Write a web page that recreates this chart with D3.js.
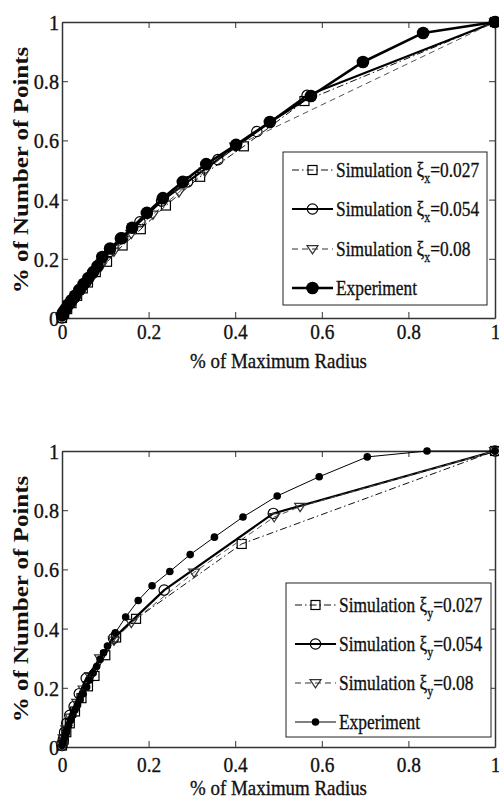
<!DOCTYPE html>
<html>
<head>
<meta charset="utf-8">
<script src="https://cdn.jsdelivr.net/npm/d3@7"></script>
<style>
  html, body { margin: 0; padding: 0; background: #fff; }
  svg text { font-family: 'Liberation Serif', 'Times New Roman', Times, serif; }
  svg text.heavy { stroke: #111; stroke-width: 0.35px; }
</style>
</head>
<body>
<svg id="fig" width="499" height="802"></svg>
<script>
// ---- axis ticks and labels ----
const xTickValues = [0, 0.2, 0.4, 0.6, 0.8, 1];
const yTickValues = [0, 0.2, 0.4, 0.6, 0.8, 1];
const tickLabels = ["0", "0.2", "0.4", "0.6", "0.8", "1"];
const xTitle = "% of Maximum Radius";
const yTitle = "% of Number of Points";

// ---- legend text ----
const legendNames = ["Simulation \u03BE", "Simulation \u03BE", "Simulation \u03BE", "Experiment"];
const legendValues = ["=0.027", "=0.054", "=0.08", ""];

// ---- x-direction panel: [radius fraction, point fraction] ----
const topSim027 = [[0,0],[0.005,0.015],[0.012,0.03],[0.022,0.05],[0.035,0.075],[0.048,0.1],[0.06,0.12],
  [0.078,0.155],[0.104,0.19],[0.14,0.245],[0.182,0.3],[0.24,0.38],[0.319,0.477],[0.42,0.58],[0.56,0.733],[1,1]];
const topSim054 = [[0,0],[0.004,0.015],[0.01,0.03],[0.02,0.05],[0.03,0.07],[0.042,0.095],[0.055,0.12],
  [0.07,0.15],[0.088,0.185],[0.11,0.225],[0.14,0.27],[0.18,0.325],[0.23,0.395],[0.29,0.46],[0.36,0.535],
  [0.45,0.63],[0.566,0.752],[1,1]];
const topSim08 = [[0,0],[0.005,0.012],[0.012,0.028],[0.022,0.048],[0.035,0.072],[0.05,0.1],[0.068,0.135],
  [0.09,0.175],[0.12,0.225],[0.16,0.285],[0.21,0.35],[0.27,0.425],[0.33,0.495],[0.4,0.58],[1,1]];
const topExperiment = [[0,0.01],[0.003,0.02],[0.008,0.03],[0.014,0.045],[0.022,0.06],[0.03,0.075],
  [0.04,0.095],[0.05,0.115],[0.061,0.135],[0.072,0.155],[0.082,0.175],[0.093,0.206],[0.111,0.235],
  [0.136,0.269],[0.162,0.305],[0.196,0.355],[0.233,0.405],[0.279,0.46],[0.333,0.52],[0.402,0.585],
  [0.48,0.662],[0.575,0.75],[0.695,0.865],[0.834,0.963],[1,1]];

// ---- y-direction panel ----
const botSim027 = [[0,0.005],[0.004,0.025],[0.01,0.05],[0.018,0.08],[0.03,0.12],[0.045,0.165],[0.06,0.205],
  [0.075,0.24],[0.1,0.31],[0.125,0.37],[0.171,0.433],[0.415,0.686],[1,1]];
const botSim054 = [[0,0.005],[0.003,0.025],[0.006,0.05],[0.011,0.08],[0.018,0.107],[0.028,0.137],
  [0.04,0.18],[0.056,0.232],[0.119,0.367],[0.236,0.53],[0.488,0.789],[1,1]];
const botSim08 = [[0,0.005],[0.004,0.03],[0.01,0.06],[0.02,0.1],[0.035,0.15],[0.05,0.195],[0.065,0.24],
  [0.088,0.3],[0.12,0.36],[0.16,0.42],[0.305,0.59],[0.49,0.777],[0.55,0.812],[1,1]];
const botExperiment = [[0,0.005],[0.002,0.015],[0.005,0.028],[0.008,0.042],[0.011,0.057],[0.015,0.073],
  [0.02,0.09],[0.025,0.107],[0.03,0.125],[0.036,0.142],[0.042,0.16],[0.049,0.18],[0.057,0.203],
  [0.064,0.226],[0.072,0.25],[0.08,0.272],[0.088,0.296],[0.096,0.318],[0.105,0.341],[0.123,0.386],
  [0.147,0.439],[0.176,0.495],[0.208,0.545],[0.249,0.593],[0.296,0.65],[0.352,0.709],[0.418,0.777],
  [0.497,0.848],[0.594,0.913],[0.705,0.98],[0.843,1.0],[1,1]];

// line / marker styles for the four series
function seriesStyles(expWidth, expRadius) {
  return [
    { stroke: "#111", width: 1, dash: "7,3,1.5,3", marker: "square", size: 9, fill: "none" },
    { stroke: "#000", width: 2.2, dash: null, marker: "circle", size: 5.2, fill: "none" },
    { stroke: "#555", width: 1, dash: "6,4", marker: "triangle", size: 5.5, fill: "none" },
    { stroke: "#000", width: expWidth, dash: null, marker: "dot", size: expRadius, fill: "#000" }
  ];
}

const panels = [
  {
    left: 62, right: 495, top: 22, bottom: 318, sub: "x",
    series: [topSim027, topSim054, topSim08, topExperiment],
    styles: seriesStyles(2.6, 6.3),
    xLabelBase: 339, xTitleBase: 368, yTitleCenter: 170,
    legend: { x0: 283, x1: 487, y0: 152, y1: 305, rows: [170, 209, 249, 288] }
  },
  {
    left: 62, right: 495, top: 451, bottom: 747, sub: "y",
    series: [botSim027, botSim054, botSim08, botExperiment],
    styles: seriesStyles(1, 3.8),
    xLabelBase: 772, xTitleBase: 795, yTitleCenter: 599,
    legend: { x0: 286, x1: 491, y0: 583, y1: 737, rows: [605, 644, 683, 722] }
  }
];

const svg = d3.select("#fig");

function drawMarker(g, style, cx, cy) {
  const common = (sel) => sel.attr("stroke", "#000")
    .attr("stroke-width", style.marker === "dot" ? 0 : 1.2)
    .attr("fill", style.fill);
  if (style.marker === "circle" || style.marker === "dot") {
    g.append("circle").attr("cx", cx).attr("cy", cy).attr("r", style.size).call(common);
  } else if (style.marker === "square") {
    const h = style.size / 2;
    g.append("rect").attr("x", cx - h).attr("y", cy - h)
      .attr("width", style.size).attr("height", style.size).call(common);
  } else if (style.marker === "triangle") {
    const s = style.size;
    g.append("path")
      .attr("d", `M${cx - s},${cy - s * 0.6}L${cx + s},${cy - s * 0.6}L${cx},${cy + s * 0.9}Z`)
      .call(common).attr("stroke", "#333");
  }
}

panels.forEach(p => {
  const x = d3.scaleLinear().domain([0, 1]).range([p.left, p.right]);
  const y = d3.scaleLinear().domain([0, 1]).range([p.bottom, p.top]);
  const g = svg.append("g");

  // frame with inward ticks on all four sides
  const label = d => tickLabels[xTickValues.indexOf(d)];
  const axB = g.append("g").attr("transform", `translate(0,${p.bottom})`)
    .call(d3.axisBottom(x).tickValues(xTickValues).tickSizeInner(-6).tickSizeOuter(0).tickFormat(label));
  const axT = g.append("g").attr("transform", `translate(0,${p.top})`)
    .call(d3.axisTop(x).tickValues(xTickValues).tickSizeInner(-6).tickSizeOuter(0).tickFormat(""));
  const axL = g.append("g").attr("transform", `translate(${p.left},0)`)
    .call(d3.axisLeft(y).tickValues(yTickValues).tickSizeInner(-6).tickSizeOuter(0)
      .tickFormat(d => tickLabels[yTickValues.indexOf(d)]));
  const axR = g.append("g").attr("transform", `translate(${p.right},0)`)
    .call(d3.axisRight(y).tickValues(yTickValues).tickSizeInner(-6).tickSizeOuter(0).tickFormat(""));

  [axB, axT, axL, axR].forEach(a => {
    a.attr("font-family", null);
    a.select(".domain").attr("stroke", "#333").attr("stroke-width", 1.5);
    a.selectAll(".tick line").attr("stroke", "#333").attr("stroke-width", 1);
  });

  axB.selectAll(".tick text")
    .attr("class", "heavy")
    .attr("font-size", 22).attr("fill", "#111")
    .attr("y", null).attr("dy", null)
    .attr("transform", `translate(0,${p.xLabelBase - p.bottom}) scale(0.88,1)`);
  axL.selectAll(".tick text")
    .attr("class", "heavy")
    .attr("font-size", 22).attr("fill", "#111")
    .attr("x", null).attr("dy", "0.34em")
    .attr("transform", "translate(-3,0) scale(0.92,1)");

  // axis titles
  g.append("text").attr("class", "heavy")
    .attr("transform", `translate(${(p.left + p.right) / 2},${p.xTitleBase}) scale(0.86,1)`)
    .attr("text-anchor", "middle").attr("font-size", 22)
    .attr("fill", "#111").text(xTitle);
  g.append("text")
    .attr("transform", `translate(28,${p.yTitleCenter}) scale(0.8,1) rotate(-90)`)
    .attr("text-anchor", "middle").attr("font-size", 25)
    .attr("font-weight", "bold").attr("fill", "#111").text(yTitle);

  // series lines and markers
  const line = d3.line().x(d => x(d[0])).y(d => y(d[1]));
  p.series.forEach((data, i) => {
    const st = p.styles[i];
    g.append("path").datum(data).attr("d", line)
      .attr("fill", "none").attr("stroke", st.stroke).attr("stroke-width", st.width)
      .attr("stroke-dasharray", st.dash).attr("stroke-linejoin", "round");
    const mg = g.append("g");
    data.forEach(d => drawMarker(mg, st, x(d[0]), y(d[1])));
  });

  // legend
  const L = p.legend;
  const lg = g.append("g");
  lg.append("rect").attr("x", L.x0).attr("y", L.y0)
    .attr("width", L.x1 - L.x0).attr("height", L.y1 - L.y0)
    .attr("fill", "#fff").attr("stroke", "#222").attr("stroke-width", 1);
  legendNames.forEach((name, i) => {
    const st = p.styles[i];
    const ry = L.rows[i];
    lg.append("line").attr("x1", L.x0 + 9).attr("x2", L.x0 + 50).attr("y1", ry).attr("y2", ry)
      .attr("stroke", st.stroke === "#555" ? "#333" : st.stroke).attr("stroke-width", st.width)
      .attr("stroke-dasharray", st.dash);
    drawMarker(lg, st, L.x0 + 29.5, ry);
    const t = lg.append("text").attr("class", "heavy")
      .attr("transform", `translate(${L.x0 + 53},${ry + 7}) scale(0.79,1)`)
      .attr("font-size", 22).attr("fill", "#111");
    t.append("tspan").text(name);
    if (legendValues[i]) {
      t.append("tspan").attr("dy", 6).attr("font-size", 15).text(p.sub);
      t.append("tspan").attr("dy", -6).text(legendValues[i]);
    }
  });
});
</script>
</body>
</html>
